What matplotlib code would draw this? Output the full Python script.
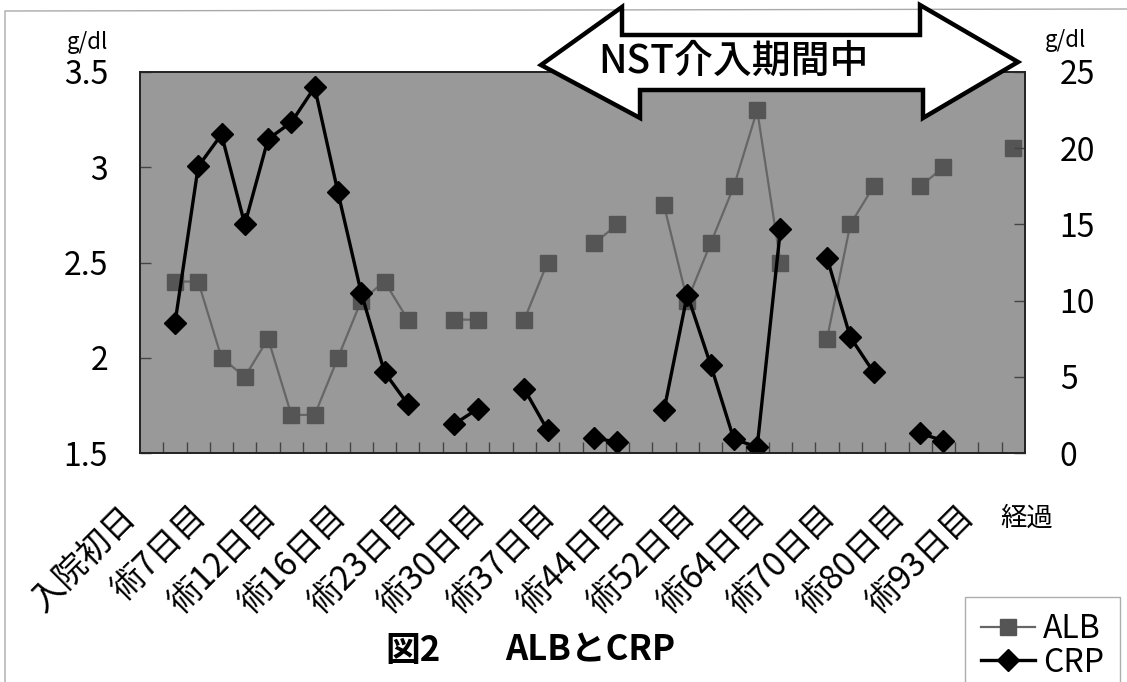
import numpy as np
import matplotlib
matplotlib.use("Agg")
import matplotlib.pyplot as plt
from matplotlib.lines import Line2D
from matplotlib.patches import Polygon
from matplotlib.transforms import ScaledTranslation

plt.rcParams['font.family'] = ['Noto Sans CJK JP', 'DejaVu Sans']

# one slot per measurement day, NaN where nothing was taken
alb = [np.nan, 2.4, 2.4, 2.0, 1.9, 2.1, 1.7, 1.7, 2.0, 2.3, 2.4, 2.2, np.nan,
       2.2, 2.2, np.nan, 2.2, 2.5, np.nan, 2.6, 2.7, np.nan, 2.8, 2.3, 2.6, 2.9,
       3.3, 2.5, np.nan, 2.1, 2.7, 2.9, np.nan, 2.9, 3.0, np.nan, np.nan, 3.1]
crp = [np.nan, 8.5, 18.8, 20.9, 15.0, 20.6, 21.7, 24.0, 17.1, 10.5, 5.3, 3.2, np.nan,
       1.9, 2.9, np.nan, 4.2, 1.5, np.nan, 1.0, 0.7, np.nan, 2.8, 10.4, 5.8, 0.9,
       0.4, 14.7, np.nan, 12.8, 7.6, 5.3, np.nan, 1.3, 0.8, np.nan, np.nan, np.nan]
day_labels = ['入院初日', '術7日目', '術12日目', '術16日目', '術23日目', '術30日目', '術37日目',
              '術44日目', '術52日目', '術64日目', '術70日目', '術80日目', '術93日目']
label_step = 3
alb_ticks = [1.5, 2, 2.5, 3, 3.5]
crp_ticks = [0, 5, 10, 15, 20, 25]

W, H = 1127, 682


def px(x, y):
    # pixel position (from top-left) -> figure fraction
    return x / W, 1 - y / H


fig = plt.figure(figsize=(W / 100, H / 100), dpi=100)
left, top = px(140, 72)
right, bottom = px(1025, 453)
ax = fig.add_axes([left, bottom, right - left, top - bottom])
ax.set_facecolor('#999999')
ax2 = ax.twinx()

x = np.arange(len(alb))
l1, = ax.plot(x, alb, color='#666666', lw=1.6, marker='s', ms=11,
              mfc='#555555', mec='#555555', label='ALB')
l2, = ax2.plot(x, crp, color='black', lw=2.4, marker='D', ms=11.5,
               mfc='black', mec='black', label='CRP')

ax.set_xlim(-0.5, len(alb) - 0.5)
ax.set_ylim(1.5, 3.5)
ax2.set_ylim(0, 25)

for a in (ax, ax2):
    for s in a.spines.values():
        s.set_color('#222222')
        s.set_linewidth(1.2)

ax.set_yticks(alb_ticks, [f'{v:g}' for v in alb_ticks])
ax2.set_yticks(crp_ticks, [str(v) for v in crp_ticks])
ax.tick_params(axis='y', direction='in', length=8, width=1, color='#444444',
               labelsize=23, pad=23)
ax2.tick_params(axis='y', direction='in', length=8, width=1, color='#444444',
                labelsize=23, pad=25)

# category tick marks between days, labels every third day
ax.set_xticks(np.arange(0.5, len(alb) - 1, 1), minor=True)
ax.tick_params(axis='x', which='minor', direction='in', length=8, width=1, color='#444444')
ax.set_xticks(x[::label_step], day_labels, rotation=45, ha='right', va='center',
              rotation_mode='anchor')
ax.tick_params(axis='x', which='major', length=0, labelsize=24, pad=42)
shift = ScaledTranslation(-0.2, 0, fig.dpi_scale_trans)
for lab in ax.get_xticklabels():
    lab.set_transform(lab.get_transform() + shift)

# unit labels above the axes
fig.text(*px(87, 42), 'g/dl', fontsize=16, ha='center', va='center')
fig.text(*px(1065, 40), 'g/dl', fontsize=16, ha='center', va='center')
fig.text(*px(1027, 518), '経過', fontsize=19, ha='center', va='center')

# figure caption
fig.text(*px(385, 650), '図2', fontsize=25, fontweight='bold', ha='left', va='center')
fig.text(*px(505, 650), 'ALBとCRP', fontsize=25, fontweight='bold', ha='left', va='center')

# double arrow marking the NST period
arrow_px = [(541, 65), (622, 7), (622, 35), (920, 35), (920, 5), (1018, 62),
            (923, 118), (923, 90), (640, 90), (640, 118)]
fig.patches.append(Polygon([px(*p) for p in arrow_px], closed=True, facecolor='white',
                           edgecolor='black', lw=3.2, joinstyle='miter',
                           transform=fig.transFigure, zorder=5))
fig.text(*px(733, 62), 'NST介入期間中', fontsize=28, fontweight='medium',
         ha='center', va='center', zorder=6)

# thin page border on the left and top
fig.add_artist(Line2D([5 / W, 5 / W, 1], [0, 1 - 11 / H, 1 - 9 / H],
                      color='#aaaaaa', lw=1, transform=fig.transFigure))

leg = fig.legend(handles=[l1, l2], loc='upper left', bbox_to_anchor=px(965, 597),
                 fontsize=23, frameon=True, fancybox=False, edgecolor='#999999',
                 handlelength=1.7, handletextpad=0.25, labelspacing=0.05,
                 borderpad=0.5, borderaxespad=0)
leg.get_frame().set_linewidth(1)

fig.savefig('out.png', dpi=100)
